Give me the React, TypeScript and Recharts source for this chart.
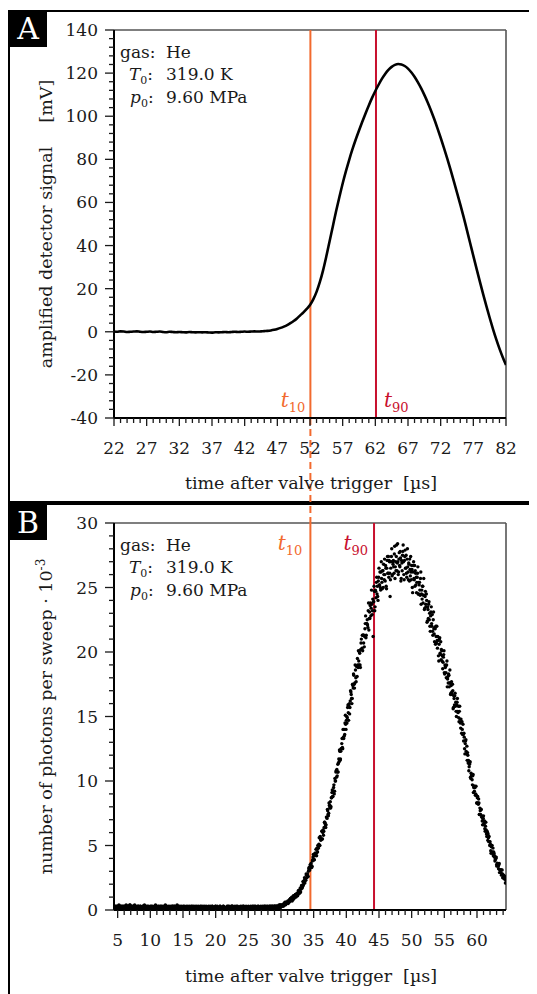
import React from 'react';
import { ComposedChart, ScatterChart, Line, Scatter, XAxis, YAxis, ReferenceLine } from 'recharts';

const FONT = '"DejaVu Serif", "Liberation Serif", serif';
const ORANGE = '#f26a2e';
const CRIMSON = '#c8102e';
const INK = '#1a1a1a';

// ---------- Panel A: amplified detector signal ----------
const signalStart = 22;
const signalStep = 0.5;
const signalValues = [
  0.1, 0.0, 0.2, 0.1, -0.1, 0.0, 0.1, 0.2, 0.0, -0.1,
  0.0, 0.1, -0.1, 0.0, 0.1, -0.1, -0.2, 0.0, -0.1, -0.2,
  -0.1, -0.2, -0.3, -0.1, -0.2, -0.3, -0.2, -0.3, -0.2, -0.3,
  -0.4, -0.2, -0.3, -0.2, -0.1, -0.2, -0.1, 0.0, -0.1, 0.0,
  0.1, 0.0, 0.1, 0.2, 0.1, 0.2,
  0.3, 0.4, 0.6, 0.9, 1.3, 1.8, 2.4, 3.1, 4.0, 5.0,
  6.2, 7.6, 9.0, 10.6, 12.4, 15.0, 18.5, 23.0, 28.5, 35.0,
  42.0, 49.0, 56.0, 62.5, 68.8, 74.5, 79.8, 84.7, 89.2, 93.4,
  97.4, 101.3, 105.0, 108.5, 111.7, 114.6, 117.3, 119.6, 121.5, 122.9,
  123.8, 124.2, 124.0, 123.3, 122.1, 120.4, 118.3, 115.8, 113.0, 109.9,
  106.5, 102.8, 98.8, 94.5, 90.0, 85.3, 80.4, 75.3, 70.0, 64.6,
  59.1, 53.4, 47.4, 41.3, 35.2, 29.2, 23.3, 17.5, 11.9, 6.5,
  1.4, -3.4, -7.8, -11.8, -15.4,
];
const signalXDomain = [22, 82];
const signalYDomain = [-40, 140];
const signalXMajor = [22, 27, 32, 37, 42, 47, 52, 57, 62, 67, 72, 77, 82];
const signalYMajor = [-40, -20, 0, 20, 40, 60, 80, 100, 120, 140];
const signalT10 = 52.06;
const signalT90 = 62.1;
const connectorEnd = -89;

// ---------- Panel B: photon counts (sweeps on a 0.1 µs grid and its mid-points) ----------
const photonStart = 4.5;
const photonStep = 0.1;
const photonCounts = [
  0.2,0.3,0.2,0.1,0.3,0.2,0.2,0.4,0.2,0.1,
  0.3,0.2,0.2,0.3,0.1,0.2,0.3,0.2,0.4,0.2,
  0.1,0.2,0.3,0.2,0.4,0.3,0.1,0.2,0.2,0.3,
  0.2,0.4,0.2,0.2,0.1,0.3,0.2,0.3,0.2,0.2,
  0.3,0.1,0.2,0.2,0.3,0.2,0.4,0.2,0.1,0.2,
  0.2,0.2,0.3,0.1,0.2,0.3,0.2,0.2,0.3,0.1,
  0.2,0.3,0.2,0.4,0.2,0.1,0.2,0.3,0.2,0.2,
  0.1,0.3,0.2,0.2,0.3,0.2,0.1,0.2,0.4,0.2,
  0.3,0.2,0.1,0.2,0.2,0.3,0.2,0.2,0.1,0.3,
  0.2,0.2,0.3,0.2,0.1,0.2,0.4,0.2,0.2,0.1,
  0.2,0.1,0.2,0.3,0.2,0.2,0.1,0.3,0.2,0.2,
  0.3,0.2,0.2,0.1,0.2,0.3,0.2,0.1,0.2,0.3,
  0.2,0.3,0.1,0.2,0.2,0.2,0.3,0.2,0.1,0.2,
  0.1,0.2,0.2,0.3,0.2,0.1,0.2,0.2,0.3,0.2,
  0.2,0.2,0.1,0.2,0.3,0.2,0.2,0.1,0.2,0.2,
  0.3,0.1,0.2,0.2,0.2,0.3,0.1,0.2,0.2,0.1,
  0.2,0.2,0.3,0.1,0.2,0.2,0.2,0.3,0.1,0.2,
  0.1,0.2,0.2,0.2,0.3,0.1,0.2,0.2,0.2,0.3,
  0.2,0.3,0.1,0.2,0.2,0.2,0.1,0.3,0.2,0.2,
  0.2,0.1,0.2,0.3,0.2,0.1,0.2,0.2,0.3,0.2,
  0.1,0.2,0.2,0.2,0.1,0.3,0.2,0.2,0.1,0.2,
  0.2,0.3,0.2,0.1,0.2,0.2,0.3,0.1,0.2,0.2,
  0.2,0.1,0.2,0.2,0.3,0.2,0.1,0.2,0.2,0.3,
  0.3,0.2,0.2,0.1,0.2,0.3,0.2,0.2,0.3,0.2,
  0.2,0.2,0.3,0.2,0.2,0.3,0.2,0.3,0.2,0.3,
  0.3,0.2,0.4,0.2,0.4,0.3,0.3,0.4,0.3,0.4,
  0.4,0.6,0.4,0.5,0.6,0.6,0.5,0.7,0.8,0.7,
  0.9,0.8,0.7,1.0,1.1,0.9,1.1,1.2,1.0,1.1,
  1.2,1.2,1.5,1.4,1.6,1.4,1.7,1.9,1.8,1.9,
  2.2,2.5,2.3,2.3,2.7,2.7,2.6,3.0,3.3,3.1,
  3.3,3.6,3.3,3.8,4.1,3.9,3.9,4.4,4.4,4.4,
  4.8,4.5,5.0,5.1,5.0,5.7,5.4,5.5,6.1,6.0,
  5.8,6.4,6.8,6.6,6.6,7.2,7.8,7.4,7.5,8.1,
  8.1,7.9,8.7,9.1,8.8,9.2,9.7,9.2,10.0,10.7,
  10.3,10.4,11.3,11.4,11.5,12.3,11.7,12.5,12.9,12.6,
  14.0,13.3,13.5,14.5,14.4,14.7,14.5,15.7,15.3,15.9,
  15.2,16.2,16.9,16.4,16.4,17.4,18.3,17.5,17.6,18.6,
  17.7,18.9,19.5,18.8,19.3,20.0,19.0,20.2,21.0,20.3,
  20.1,21.3,21.3,21.2,22.2,21.1,22.2,22.5,21.9,23.8,
  22.6,22.6,23.8,23.4,23.7,23.2,21.2,23.9,24.7,23.5,
  24.7,25.4,24.5,24.3,25.5,26.5,25.2,25.0,26.2,25.7,
  24.9,26.3,26.8,25.6,26.0,26.7,25.1,26.5,27.4,26.1,
  25.8,27.0,24.3,26.5,27.4,25.9,27.0,27.1,26.1,28.2,
  26.6,26.3,28.3,26.9,27.0,26.2,27.7,26.6,27.3,25.7,
  26.9,27.5,28.3,26.0,27.1,27.9,26.5,26.1,27.2,26.6,
  25.6,26.8,27.2,25.9,26.2,26.7,25.0,26.2,27.0,25.6,
  25.1,26.1,25.8,25.4,26.1,24.5,25.4,25.4,24.4,26.2,
  24.5,24.1,25.1,24.4,24.4,23.4,24.7,23.5,24.0,22.4,
  23.3,23.7,22.5,22.0,22.8,23.5,22.0,21.6,22.5,21.8,
  20.8,21.8,22.0,20.7,20.9,21.2,19.7,20.6,21.1,19.8,
  19.4,20.1,19.7,19.2,19.8,18.4,19.0,18.9,18.0,19.3,
  17.9,17.6,18.2,17.6,17.6,16.8,17.7,16.7,17.0,15.7,
  16.4,16.6,15.8,15.4,15.9,16.4,15.3,14.9,15.4,14.8,
  14.1,14.6,14.6,13.6,13.6,13.7,12.5,12.9,13.2,12.1,
  11.6,12.0,11.6,11.1,11.4,10.3,10.6,10.5,9.7,10.5,
  9.5,9.2,9.5,9.0,8.9,8.3,8.8,8.2,8.3,7.4,
  7.7,7.8,7.2,6.9,7.1,7.3,6.6,6.3,6.5,6.2,
  5.7,6.0,5.9,5.3,5.3,5.3,4.6,4.9,5.0,4.4,
  4.2,4.4,4.2,3.9,4.0,3.5,3.6,3.6,3.2,3.6,
  3.1,2.9,3.1,2.8,2.8,2.5,2.7,2.4,2.5,2.1,
];
const photonCountsMid = [
  0.2,0.1,0.3,0.2,0.2,0.3,0.1,0.2,0.3,0.2,
  0.2,0.3,0.1,0.2,0.3,0.2,0.2,0.1,0.2,0.3,
  0.3,0.2,0.2,0.4,0.2,0.1,0.2,0.3,0.2,0.2,
  0.1,0.2,0.3,0.2,0.2,0.2,0.3,0.1,0.2,0.3,
  0.2,0.2,0.1,0.3,0.2,0.3,0.2,0.2,0.3,0.1,
  0.3,0.2,0.2,0.2,0.1,0.2,0.3,0.2,0.2,0.2,
  0.2,0.1,0.2,0.3,0.3,0.2,0.1,0.2,0.3,0.2,
  0.2,0.3,0.2,0.1,0.2,0.2,0.3,0.2,0.1,0.2,
  0.1,0.2,0.3,0.2,0.2,0.1,0.2,0.3,0.2,0.3,
  0.2,0.3,0.2,0.2,0.3,0.2,0.2,0.1,0.3,0.2,
  0.3,0.2,0.1,0.2,0.2,0.3,0.2,0.2,0.2,0.1,
  0.2,0.2,0.3,0.2,0.1,0.2,0.2,0.3,0.2,0.2,
  0.1,0.2,0.2,0.3,0.2,0.2,0.1,0.2,0.3,0.2,
  0.2,0.3,0.1,0.2,0.2,0.3,0.2,0.2,0.1,0.2,
  0.3,0.2,0.2,0.1,0.2,0.2,0.3,0.2,0.2,0.3,
  0.2,0.1,0.2,0.2,0.3,0.2,0.2,0.3,0.1,0.2,
  0.2,0.3,0.2,0.2,0.1,0.2,0.3,0.2,0.2,0.2,
  0.1,0.2,0.3,0.2,0.2,0.3,0.2,0.1,0.2,0.3,
  0.3,0.2,0.2,0.1,0.3,0.2,0.2,0.2,0.3,0.1,
  0.2,0.2,0.1,0.2,0.2,0.3,0.2,0.3,0.2,0.2,
  0.2,0.3,0.2,0.2,0.1,0.2,0.2,0.2,0.3,0.2,
  0.1,0.2,0.3,0.2,0.3,0.2,0.1,0.2,0.2,0.3,
  0.3,0.2,0.2,0.2,0.2,0.1,0.3,0.2,0.2,0.2,
  0.2,0.3,0.2,0.3,0.2,0.2,0.2,0.3,0.2,0.3,
  0.3,0.2,0.3,0.2,0.3,0.3,0.2,0.3,0.3,0.2,
  0.2,0.3,0.3,0.4,0.2,0.4,0.3,0.4,0.3,0.5,
  0.5,0.4,0.6,0.5,0.5,0.7,0.6,0.6,0.8,0.9,
  0.8,1.0,0.9,0.8,1.0,1.1,1.0,1.2,1.1,1.3,
  1.1,1.5,1.4,1.3,1.7,1.6,1.9,1.7,2.2,2.0,
  2.3,2.1,2.4,2.8,2.5,2.8,2.6,3.2,3.1,3.5,
  3.5,3.4,3.4,3.9,4.3,3.9,4.2,4.3,4.7,4.2,
  4.7,5.0,4.8,5.6,5.0,5.5,5.5,6.1,5.5,6.2,
  6.1,6.8,6.7,6.4,7.2,7.1,7.7,7.3,8.3,7.9,
  8.4,8.0,8.7,9.3,8.8,9.5,9.0,10.2,10.0,10.8,
  10.9,10.7,10.7,11.7,12.4,11.6,12.3,12.5,13.3,12.5,
  13.4,14.0,13.6,15.1,14.0,15.0,14.9,15.9,14.7,16.0,
  15.7,17.0,16.7,16.0,17.5,17.2,18.2,17.2,19.0,18.0,
  18.9,18.1,19.0,20.1,19.0,19.9,18.8,20.7,20.2,21.3,
  21.3,20.7,20.4,21.8,22.8,21.3,22.2,22.1,23.2,21.7,
  23.1,23.6,22.8,24.8,22.9,24.1,23.9,25.1,23.2,24.8,
  24.2,25.8,25.1,24.0,25.8,25.2,26.2,24.8,27.0,25.4,
  26.3,25.0,26.0,27.2,25.5,26.5,24.9,27.1,26.1,27.4,
  27.1,26.1,25.6,27.0,28.0,26.0,26.8,26.6,27.6,25.7,
  27.0,27.4,26.3,28.4,26.0,27.2,26.7,27.8,25.5,27.1,
  26.3,27.8,27.0,25.6,27.4,26.5,27.5,25.8,28.0,26.2,
  26.9,25.5,26.4,27.4,25.6,26.4,24.6,26.7,25.7,26.7,
  26.3,25.2,24.6,25.8,26.6,24.5,25.2,24.8,25.7,23.7,
  24.8,25.1,23.8,25.7,23.3,24.3,23.7,24.5,22.3,23.5,
  22.6,23.9,23.0,21.6,23.1,22.2,22.9,21.3,23.1,21.4,
  21.9,20.6,21.2,22.0,20.3,20.9,19.3,21.0,19.9,20.8,
  20.2,19.3,18.7,19.6,20.1,18.3,18.8,18.4,19.0,17.3,
  18.1,18.3,17.3,18.6,16.7,17.4,16.9,17.5,15.6,16.6,
  15.9,16.8,16.1,15.0,16.1,15.4,15.8,14.6,15.8,14.5,
  14.8,13.7,14.0,14.4,13.1,13.4,12.1,13.1,12.3,12.7,
  12.2,11.4,10.8,11.3,11.5,10.2,10.4,10.1,10.4,9.1,
  9.6,9.6,8.9,9.6,8.3,8.7,8.3,8.6,7.4,7.9,
  7.4,7.8,7.3,6.6,7.1,6.7,6.9,6.1,6.8,5.9,
  6.1,5.4,5.6,5.7,5.0,5.1,4.4,5.0,4.5,4.8,
  4.5,4.1,3.8,4.0,4.1,3.4,3.6,3.4,3.5,2.9,
  3.1,3.1,2.7,3.1,2.5,2.6,2.5,2.6,2.1,2.3,
];
const photonXDomain = [4.44, 64.44];
const photonYDomain = [0, 30];
const photonXMajor = [5, 10, 15, 20, 25, 30, 35, 40, 45, 50, 55, 60];
const photonYMajor = [0, 5, 10, 15, 20, 25, 30];
const photonT10 = 34.5;
const photonT90 = 44.24;

// ---------- derived tables ----------
const signalData = signalValues.map((v, i) => ({ t: signalStart + i * signalStep, v }));
const photonData = [
  ...photonCounts.map((n, i) => ({ t: +(photonStart + i * photonStep).toFixed(3), n })),
  ...photonCountsMid.map((n, i) => ({ t: +(photonStart + photonStep / 2 + i * photonStep).toFixed(3), n })),
];

const intRange = (a: number, b: number, s = 1) => {
  const out: number[] = [];
  for (let v = a; v <= b + 1e-9; v += s) out.push(v);
  return out;
};
const signalXTicks = intRange(22, 82);
const signalYTicks = intRange(-40, 140, 4);
const photonXTicks = intRange(5, 64);
const photonYTicks = intRange(0, 30);

const XTick = (props: any) => {
  const { x, y, payload, majors } = props;
  const v = payload.value;
  const major = majors.includes(v);
  return (
    <g>
      <line x1={x} y1={y} x2={x} y2={y + (major ? 8 : 5)} stroke={INK} strokeWidth={1.3} />
      {major && (
        <text x={x} y={y + 30} textAnchor="middle" dominantBaseline="central" fontFamily={FONT} fontSize={17} fill={INK}>
          {v}
        </text>
      )}
    </g>
  );
};

const YTick = (props: any) => {
  const { x, y, payload, majors } = props;
  const v = payload.value;
  const major = majors.includes(v);
  return (
    <g>
      <line x1={x} y1={y} x2={x - (major ? 9 : 5)} y2={y} stroke={INK} strokeWidth={1.3} />
      {major && (
        <text x={x - 16} y={y} textAnchor="end" dominantBaseline="central" fontFamily={FONT} fontSize={17} fill={INK}>
          {String(v)}
        </text>
      )}
    </g>
  );
};

const TLabel = (props: any) => {
  const { viewBox, color, sub, side, vpos, dx, dy } = props;
  if (!viewBox) return null;
  const { x, y, height } = viewBox;
  const by = vpos === 'bottom' ? y + height - dy : y + dy;
  const tx = side === 'left' ? x - dx : x + dx;
  return (
    <text x={tx} y={by} fill={color} fontFamily={FONT} textAnchor={side === 'left' ? 'end' : 'start'}>
      <tspan fontStyle="italic" fontSize={20}>t</tspan>
      <tspan fontSize={13} dy={5}>{sub}</tspan>
    </text>
  );
};

const Annotation = ({ top }: { top: number }) => (
  <g fontFamily={FONT} fontSize={17} fill={INK}>
    <text x={112} y={top + 27.5}>gas:</text>
    <text x={158} y={top + 27.5}>He</text>
    <text x={121} y={top + 50}>
      <tspan fontStyle="italic">T</tspan>
      <tspan fontSize={11} dy={4}>0</tspan>
      <tspan dy={-4}>:</tspan>
    </text>
    <text x={158} y={top + 50}>319.0 K</text>
    <text x={122} y={top + 72.5}>
      <tspan fontStyle="italic">p</tspan>
      <tspan fontSize={11} dy={4}>0</tspan>
      <tspan dy={-4}>:</tspan>
    </text>
    <text x={158} y={top + 72.5}>9.60 MPa</text>
  </g>
);

const labelBox: React.CSSProperties = {
  position: 'absolute',
  left: 1,
  width: 38,
  background: '#000',
  color: '#fff',
  fontFamily: FONT,
  fontSize: 30,
  lineHeight: 1,
  display: 'flex',
  alignItems: 'center',
  justifyContent: 'center',
};

export default function App() {
  return (
    <div style={{ position: 'relative', width: 529, height: 986, overflow: 'hidden' }}>
      <div style={{ position: 'absolute', left: 0, top: 1.5, width: 600, height: 493.5, border: '2.5px solid #000', boxSizing: 'border-box' }} />
      <div style={{ position: 'absolute', left: 0, top: 495, width: 600, height: 600, border: '2.5px solid #000', boxSizing: 'border-box' }} />
      <div style={{ ...labelBox, top: 3, height: 36 }}>A</div>
      <div style={{ ...labelBox, top: 497, height: 35 }}>B</div>

      <div style={{ position: 'absolute', left: 0, top: 495 }}>
        <ScatterChart width={529} height={491} margin={{ top: 20, right: 31, bottom: 0, left: 0 }}>
          <XAxis
            dataKey="t"
            type="number"
            domain={photonXDomain}
            allowDataOverflow
            ticks={photonXTicks}
            interval={0}
            tickSize={0}
            tickMargin={0}
            tickLine={false}
            height={84}
            axisLine={{ stroke: '#000', strokeWidth: 2 }}
            tick={(p: any) => <XTick {...p} majors={photonXMajor} />}
          />
          <YAxis
            dataKey="n"
            type="number"
            domain={photonYDomain}
            allowDataOverflow
            ticks={photonYTicks}
            interval={0}
            tickSize={0}
            tickMargin={0}
            tickLine={false}
            width={106}
            axisLine={{ stroke: '#000', strokeWidth: 2 }}
            tick={(p: any) => <YTick {...p} majors={photonYMajor} />}
          />
          <ReferenceLine y={30} stroke="#555" strokeWidth={1.6} />
          <ReferenceLine x={64.44} stroke="#555" strokeWidth={1.6} />
          <ReferenceLine
            x={photonT10}
            stroke={ORANGE}
            strokeWidth={2}
            label={<TLabel color={ORANGE} sub="10" side="left" vpos="top" dx={8} dy={27} />}
          />
          <ReferenceLine
            x={photonT90}
            stroke={CRIMSON}
            strokeWidth={2}
            label={<TLabel color={CRIMSON} sub="90" side="left" vpos="top" dx={6} dy={27} />}
          />
          <Scatter
            data={photonData}
            dataKey="n"
            isAnimationActive={false}
            shape={(p: any) => <circle cx={p.cx} cy={p.cy} r={1.7} fill="#000" />}
          />
        </ScatterChart>
      </div>

      <div style={{ position: 'absolute', left: 0, top: 0 }}>
        <ComposedChart width={529} height={520} data={signalData} margin={{ top: 22, right: 31, bottom: 20, left: 0 }}>
          <XAxis
            dataKey="t"
            type="number"
            domain={signalXDomain}
            allowDataOverflow
            ticks={signalXTicks}
            interval={0}
            tickSize={0}
            tickMargin={0}
            tickLine={false}
            height={90}
            axisLine={{ stroke: '#000', strokeWidth: 2 }}
            tick={(p: any) => <XTick {...p} majors={signalXMajor} />}
          />
          <YAxis
            type="number"
            domain={signalYDomain}
            allowDataOverflow
            ticks={signalYTicks}
            interval={0}
            tickSize={0}
            tickMargin={0}
            tickLine={false}
            width={106}
            axisLine={{ stroke: '#000', strokeWidth: 2 }}
            tick={(p: any) => <YTick {...p} majors={signalYMajor} />}
          />
          <ReferenceLine y={140} stroke="#555" strokeWidth={1.6} />
          <ReferenceLine x={82} stroke="#555" strokeWidth={1.6} />
          <ReferenceLine
            x={signalT10}
            stroke={ORANGE}
            strokeWidth={2}
            label={<TLabel color={ORANGE} sub="10" side="left" vpos="bottom" dx={5} dy={11} />}
          />
          <ReferenceLine
            segment={[{ x: signalT10, y: -40 }, { x: signalT10, y: connectorEnd }]}
            stroke={ORANGE}
            strokeWidth={2}
            strokeDasharray="7 4"
            ifOverflow="visible"
          />
          <ReferenceLine
            x={signalT90}
            stroke={CRIMSON}
            strokeWidth={2}
            label={<TLabel color={CRIMSON} sub="90" side="right" vpos="bottom" dx={8} dy={11} />}
          />
          <Line dataKey="v" type="monotone" stroke="#000" strokeWidth={2.6} dot={false} isAnimationActive={false} />
        </ComposedChart>
      </div>

      <svg width={529} height={986} style={{ position: 'absolute', left: 0, top: 0, pointerEvents: 'none' }}>
        <Annotation top={22} />
        <Annotation top={515} />
        <g fontFamily={FONT} fontSize={17.5} fill={INK}>
          <text x={303} y={481} textAnchor="middle">
            time after valve trigger<tspan dx={11}>[µs]</tspan>
          </text>
          <text x={303} y={974} textAnchor="middle">
            time after valve trigger<tspan dx={11}>[µs]</tspan>
          </text>
          <text x={44} y={216} textAnchor="middle" transform="rotate(-90 44 216)">
            amplified detector signal<tspan dx={24}>[mV]</tspan>
          </text>
          <text x={44} y={708.5} textAnchor="middle" transform="rotate(-90 44 708.5)">
            number of photons per sweep · 10<tspan fontSize={12} dy={-7}>-3</tspan>
          </text>
        </g>
      </svg>
    </div>
  );
}
